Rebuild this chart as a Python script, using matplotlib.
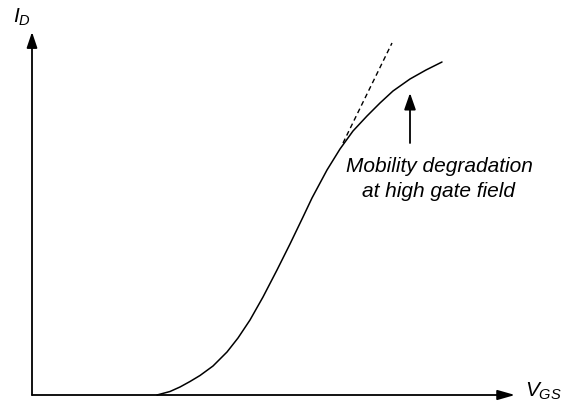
import matplotlib
matplotlib.use("Agg")
import matplotlib.pyplot as plt

plt.rcParams['font.family'] = ['Liberation Sans', 'DejaVu Sans']
plt.rcParams['mathtext.fontset'] = 'custom'
plt.rcParams['mathtext.it'] = 'Liberation Sans:italic'
plt.rcParams['mathtext.rm'] = 'Liberation Sans'

# Transfer characteristic (arbitrary units)
v_gs = [125, 138, 148, 158, 168, 181, 195, 206, 218, 231, 245, 258, 271, 280,
        295, 308, 321, 335, 348, 361, 378, 394, 410]
i_d = [0, 3.5, 8, 13.5, 19.5, 29, 43, 57, 75, 98, 125, 151, 178, 197,
       225, 246, 264, 279, 292, 304, 316, 325, 333]
# Ideal (no mobility degradation) extrapolation
tan_v = [311, 360]
tan_i = [252, 352]
# Annotation arrow
ann_v = 378
ann_i = [252, 302]
x_max, y_max = 483, 363

fig = plt.figure(figsize=(5.71, 4.08), dpi=100)
ax = fig.add_axes([32/571, 13/408, 483/571, 363/408])
ax.set_xlim(0, x_max)
ax.set_ylim(0, y_max)
ax.axis('off')

# axes arrows
ax.annotate('', xy=(0, y_max), xytext=(0, 0),
            arrowprops=dict(arrowstyle='-|>,head_length=0.95,head_width=0.32',
                            mutation_scale=10, color='black', lw=1.3,
                            shrinkA=0, shrinkB=0), annotation_clip=False)
ax.annotate('', xy=(x_max, 0), xytext=(0, 0),
            arrowprops=dict(arrowstyle='-|>,head_length=1.05,head_width=0.3',
                            mutation_scale=10, color='black', lw=1.3,
                            shrinkA=0, shrinkB=0), annotation_clip=False)

ax.plot(v_gs, i_d, color='black', lw=1.1, clip_on=False,
        solid_capstyle='round', solid_joinstyle='round')
ax.plot(tan_v, tan_i, color='black', lw=1.0, ls=(0, (3.5, 2.5)), clip_on=False)

ax.annotate('', xy=(ann_v, ann_i[1]), xytext=(ann_v, ann_i[0]),
            arrowprops=dict(arrowstyle='-|>,head_length=1.0,head_width=0.35',
                            mutation_scale=10, color='black', lw=1.3,
                            shrinkA=0, shrinkB=0), annotation_clip=False)

ax.text(407, 223, 'Mobility degradation', ha='center', va='baseline',
        fontsize=15, style='italic')
ax.text(407, 198, 'at high gate field', ha='center', va='baseline',
        fontsize=15, style='italic')

fig.text(13/571, (408-23)/408, r'$I_D$', ha='left', va='baseline', fontsize=15)
fig.text(525/571, (408-397)/408, r'$V_{GS}$', ha='left', va='baseline', fontsize=15)

fig.savefig('out.png', dpi=100)
